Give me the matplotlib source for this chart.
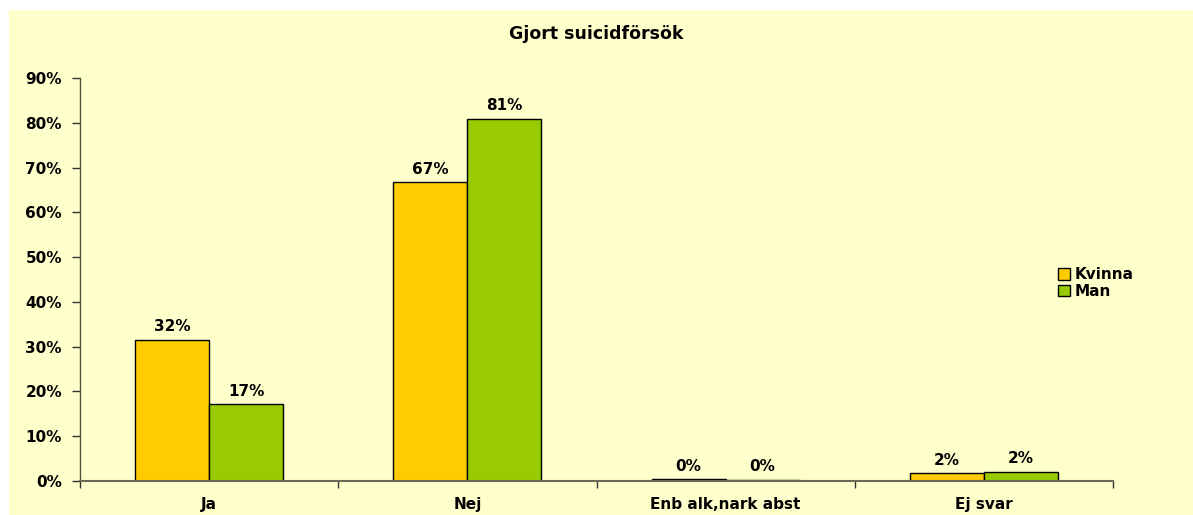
import numpy as np
import matplotlib.pyplot as plt
from matplotlib.patches import Rectangle
from matplotlib.ticker import FixedLocator, PercentFormatter

plt.rcParams['font.family'] = ['DejaVu Sans']
plt.rcParams['font.weight'] = 'bold'

categories = ['Ja', 'Nej', 'Enb alk,nark abst', 'Ej svar']
kvinna = [31.5, 66.7, 0.3, 1.7]
man = [17.1, 80.9, 0.2, 2.0]
series = ['Kvinna', 'Man']
colors = ['#FFCC00', '#99CC00']

fig = plt.figure(figsize=(11.93, 5.15), dpi=100)
fig.patch.set_facecolor('white')
# chart area background
fig.patches.append(Rectangle((9 / 1193, 0), 1, 505 / 515, transform=fig.transFigure,
                             facecolor='#FFFFCC', edgecolor='none', zorder=-1))

ax = fig.add_axes([80 / 1193, 1 - 480.7 / 515, (1113 - 80) / 1193, (480.7 - 78.3) / 515])
ax.set_facecolor('none')

x = np.arange(len(categories))
w = 0.287
fs = 11
for vals, off, col, name in [(kvinna, -w / 2, colors[0], series[0]), (man, w / 2, colors[1], series[1])]:
    bars = ax.bar(x + off, vals, w, color=col, edgecolor='black', linewidth=1, label=name)
    for b, v in zip(bars, vals):
        ax.annotate(f'{round(v):.0f}%', (b.get_x() + b.get_width() / 2, v),
                    xytext=(0, 4), textcoords='offset points', ha='center', va='bottom',
                    fontsize=fs, fontweight='bold')

ax.set_xlim(-0.5, len(categories) - 0.5)
ax.set_ylim(0, 90)
ax.yaxis.set_major_locator(FixedLocator(np.arange(0, 91, 10)))
ax.yaxis.set_major_formatter(PercentFormatter(decimals=0))
ax.set_xticks(x)
ax.set_xticklabels(categories)
ax.xaxis.set_minor_locator(FixedLocator(np.arange(-0.5, len(categories), 1)))
ax.tick_params(axis='x', which='major', length=0, pad=12, labelsize=fs)
ax.tick_params(axis='x', which='minor', length=5, width=1, color='#333333', direction='out')
ax.tick_params(axis='y', length=6, width=1, color='#333333', labelsize=fs, pad=7)
for lab in ax.get_xticklabels() + ax.get_yticklabels():
    lab.set_fontweight('bold')

for s in ['top', 'right']:
    ax.spines[s].set_visible(False)
ax.spines['left'].set_color('#555544')
ax.spines['bottom'].set_color('#6B6B55')
ax.spines['left'].set_linewidth(1)
ax.spines['bottom'].set_linewidth(1.5)

fig.text(0.5, 1 - 34 / 515, 'Gjort suicidförsök', ha='center', va='center',
         fontsize=12.5, fontweight='bold')

leg = fig.legend(loc='center left', bbox_to_anchor=(1058 / 1193, 1 - 283 / 515), frameon=False,
                 fontsize=fs, handlelength=0.8, handleheight=0.8, handletextpad=0.3,
                 labelspacing=0.1, borderpad=0, borderaxespad=0)
for t in leg.get_texts():
    t.set_fontweight('bold')

fig.savefig('out.png', dpi=100)
